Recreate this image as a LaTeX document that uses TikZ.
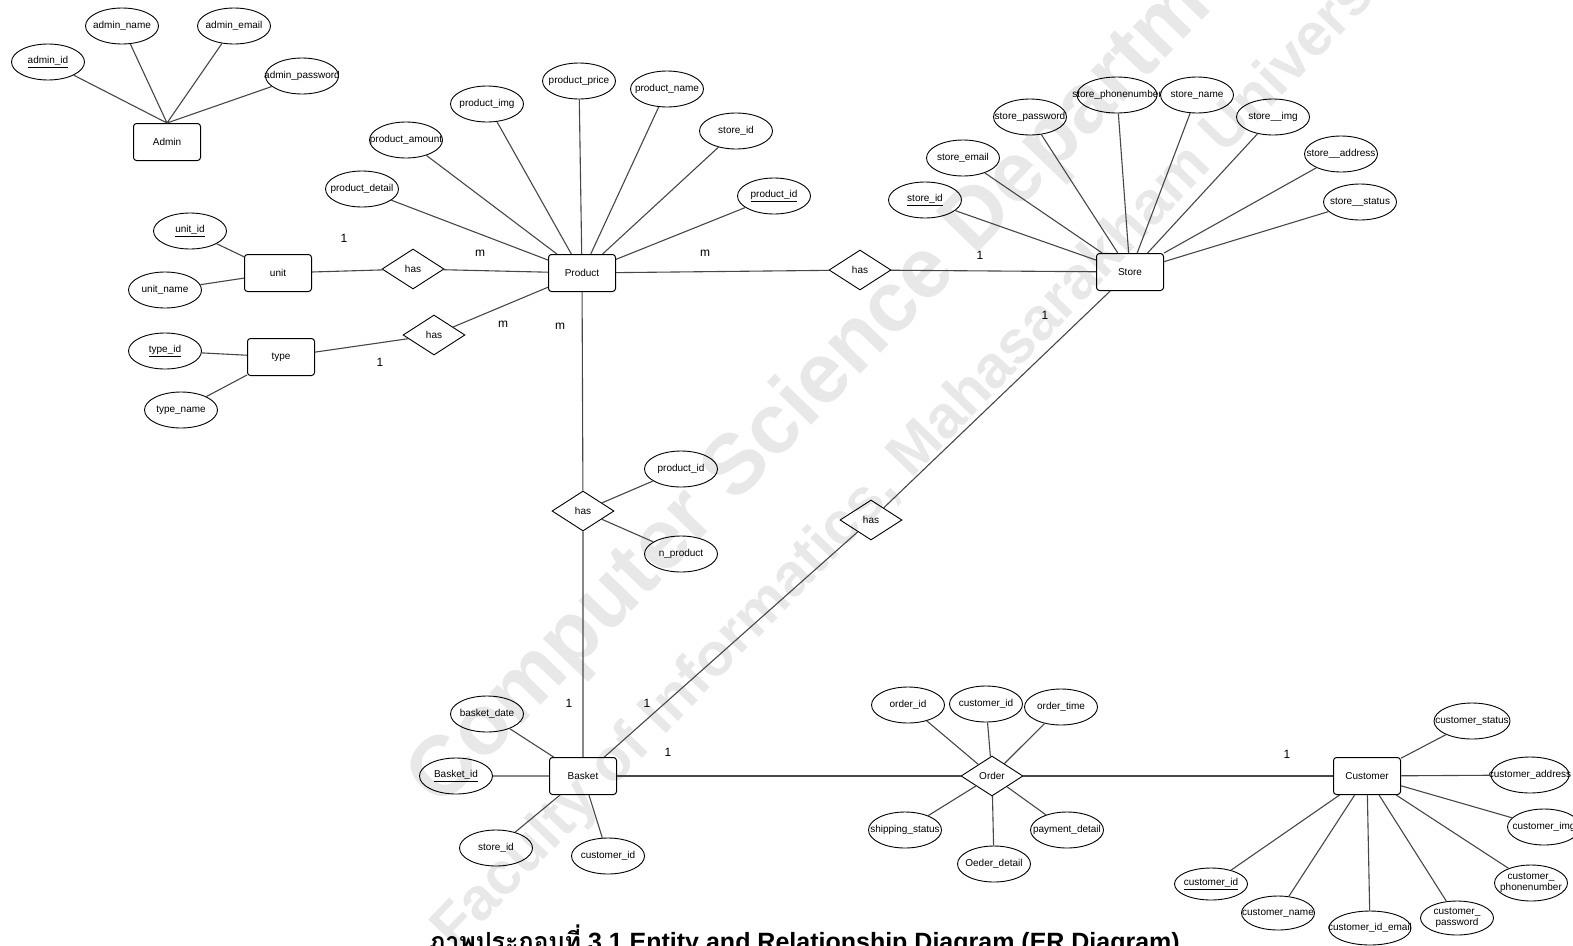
\documentclass[tikz,border=0pt]{standalone}
\usepackage{fontspec}
\setmainfont{Liberation Sans}
\newfontfamily\thaifont[Script=Thai]{Loma}
\usetikzlibrary{shapes.geometric}

\begin{document}
\begin{tikzpicture}[x=1pt, y=-1pt,
    font=\fontsize{10}{11}\selectfont,
    entity/.style={draw, rounded corners=3pt, minimum width=67, minimum height=37, line width=1pt},
    attr/.style={draw, ellipse, minimum width=73, minimum height=36, inner sep=0pt, line width=0.9pt, label={[align=center, inner sep=0pt]center:#1}},
    rel/.style={draw, diamond, minimum width=62, minimum height=40, inner sep=0pt, line width=0.9pt},
    link/.style={draw=black!72, line width=1.1pt},
    card/.style={font=\fontsize{12}{14}\selectfont},
    wmark/.style={text=black!9, rotate=46, anchor=base west, inner sep=0pt}
]
\useasboundingbox (0,0) rectangle (1573,945);

% watermark
\node[wmark, font=\fontsize{85}{85}\selectfont\bfseries] (wmarkA) at (440,810) {Computer Science Department};
\node[wmark, font=\fontsize{60}{60}\selectfont\bfseries] (wmarkB) at (455,952) {Faculty of Informatics, Mahasarakham University};

% Admin
\node[entity] (admin) at (167,142) {Admin};
\node[attr={\underline{admin\_id}}] (aid) at (48,62) {};
\node[attr=admin\_name] (aname) at (122,26) {};
\node[attr=admin\_email] (aemail) at (234,26) {};
\node[attr=admin\_password] (apass) at (302,76) {};

% Product
\node[entity] (product) at (582,273) {Product};
\node[attr=product\_detail] (pdetail) at (362,189) {};
\node[attr=product\_amount] (pamount) at (406,140) {};
\node[attr=product\_img] (pimg) at (487,104) {};
\node[attr=product\_price] (pprice) at (579,81) {};
\node[attr=product\_name] (pname) at (667,89) {};
\node[attr=store\_id] (pstore) at (736,131) {};
\node[attr={\underline{product\_id}}] (pid) at (774,196) {};

% unit / type
\node[entity] (unit) at (278,273) {unit};
\node[attr={\underline{unit\_id}}] (uid) at (190,231) {};
\node[attr=unit\_name] (uname) at (165,290) {};
\node[rel] (hasunit) at (413,269) {has};
\node[entity] (type) at (281,357) {type};
\node[attr={\underline{type\_id}}] (tid) at (165,351) {};
\node[attr=type\_name] (tname) at (181,410) {};
\node[rel] (hastype) at (434,335) {has};

% Store
\node[entity] (store) at (1130,272) {Store};
\node[rel] (hasstore) at (860,270) {has};
\node[attr={\underline{store\_id}}] (sid) at (925,200) {};
\node[attr=store\_email] (semail) at (963,158) {};
\node[attr=store\_password] (spass) at (1030,117) {};
\node[attr=store\_phonenumber, minimum width=80] (sphone) at (1117,95) {};
\node[attr=store\_name] (sname) at (1197,95) {};
\node[attr=store\_\_img] (simg) at (1273,117) {};
\node[attr=store\_\_address] (saddr) at (1341,154) {};
\node[attr=store\_\_status] (sstatus) at (1360,202) {};

% Basket
\node[rel] (hasbasket) at (583,511) {has};
\node[attr=product\_id] (hpid) at (681,469) {};
\node[attr=n\_product] (hnprod) at (681,554) {};
\node[rel] (hasshop) at (871,520) {has};
\node[entity] (basket) at (583,776) {Basket};
\node[attr=basket\_date] (bdate) at (487,714) {};
\node[attr={\underline{Basket\_id}}] (bid) at (456,776) {};
\node[attr=store\_id] (bstore) at (496,848) {};
\node[attr=customer\_id] (bcust) at (608,856) {};

% Order
\node[rel] (order) at (992,776) {Order};
\node[attr=order\_id] (oid) at (908,705) {};
\node[attr=customer\_id] (ocust) at (986,704) {};
\node[attr=order\_time] (otime) at (1061,707) {};
\node[attr=shipping\_status] (oship) at (905,830) {};
\node[attr=payment\_detail] (opay) at (1067,830) {};
\node[attr=Oeder\_detail] (odetail) at (994,864) {};

% Customer
\node[entity] (customer) at (1367,776) {Customer};
\node[attr=customer\_status, minimum width=76] (cstatus) at (1472,721) {};
\node[attr=customer\_address, minimum width=78] (caddr) at (1530,775) {};
\node[attr=customer\_img] (cimg) at (1544,827) {};
\node[attr={customer\_\\phonenumber}] (cphone) at (1531,883) {};
\node[attr={customer\_\\password}, minimum height=34] (cpass) at (1457,918) {};
\node[attr=customer\_id\_email, minimum width=82, minimum height=34] (cemail) at (1370,928) {};
\node[attr=customer\_name, minimum height=34] (cname) at (1278,913) {};
\node[attr={\underline{customer\_id}}, minimum height=32] (cid) at (1211,884) {};

% cardinalities
\node[card] (c1) at (344,238) {1};
\node[card] (c2) at (480,253) {m};
\node[card] (c3) at (503,324) {m};
\node[card] (c4) at (380,362) {1};
\node[card] (c5) at (560,326) {m};
\node[card] (c6) at (705,253) {m};
\node[card] (c7) at (980,255) {1};
\node[card] (c8) at (1045,315) {1};
\node[card] (c9) at (569,703) {1};
\node[card] (c10) at (647,703) {1};
\node[card] (c11) at (668,752) {1};
\node[card] (c12) at (1287,754) {1};

% caption (cut by the page edge)
\node[anchor=base east, inner sep=0pt, font=\fontsize{25}{27}\selectfont\bfseries] (caption) at (1180,950)
    {{\thaifont ภาพประกอบที่} 3.1 Entity and Relationship Diagram (ER Diagram)};

% attributes
\draw[link] (admin.north) -- (aid) (admin.north) -- (aname) (admin.north) -- (aemail) (admin.north) -- (apass);
\draw[link] (product) -- (pdetail) (product) -- (pamount) (product) -- (pimg) (product) -- (pprice);
\draw[link] (product) -- (pname) (product) -- (pstore) (product) -- (pid);
\draw[link] (unit) -- (uid) (unit) -- (uname);
\draw[link] (type) -- (tid) (type) -- (tname);
\draw[link] (store) -- (sid) (store) -- (semail) (store) -- (spass) (store) -- (sphone);
\draw[link] (store) -- (sname) (store) -- (simg) (store) -- (saddr) (store) -- (sstatus);
\draw[link] (hasbasket) -- (hpid) (hasbasket) -- (hnprod);
\draw[link] (basket) -- (bdate) (basket) -- (bid) (basket) -- (bstore) (basket) -- (bcust);
\draw[link] (order) -- (oid) (order) -- (ocust) (order) -- (otime);
\draw[link] (order) -- (oship) (order) -- (opay) (order) -- (odetail);
\draw[link] (customer) -- (cstatus) (customer) -- (caddr) (customer) -- (cimg) (customer) -- (cphone);
\draw[link] (customer) -- (cpass) (customer) -- (cemail) (customer) -- (cname) (customer) -- (cid);

% relationships
\draw[link] (unit) -- (hasunit) -- (product);
\draw[link] (type) -- (hastype) -- (product);
\draw[link] (product) -- (hasstore) -- (store);
\draw[link] (product) -- (hasbasket) -- (basket);
\draw[link] (store) -- (hasshop) -- (basket);
\draw[link] (basket) -- (order) -- (customer);
\end{tikzpicture}
\end{document}
